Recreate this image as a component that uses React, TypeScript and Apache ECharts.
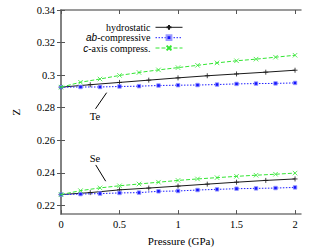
import React, { useEffect, useRef } from "react";
import * as echarts from "echarts";

const pressureFine = [0, 0.1667, 0.3333, 0.5, 0.6667, 0.8333, 1, 1.1667, 1.3333, 1.5, 1.6667, 1.8333, 2];
const pressureCoarse = [0, 0.25, 0.5, 0.75, 1, 1.25, 1.5, 1.75, 2];

const teHydro = [0.2926, 0.2941, 0.2955, 0.2969, 0.2983, 0.2996, 0.3007, 0.3018, 0.303];
const teAb = [0.2926, 0.2927, 0.2927, 0.293, 0.2932, 0.2936, 0.2938, 0.2939, 0.2942, 0.2946, 0.2948, 0.2949, 0.2952];
const teC = [0.2926, 0.2956, 0.2976, 0.2998, 0.3016, 0.3032, 0.3046, 0.306, 0.3075, 0.3088, 0.3098, 0.311, 0.3122];

const seHydro = [0.2266, 0.2278, 0.2295, 0.2306, 0.2318, 0.233, 0.2342, 0.2353, 0.2362];
const seAb = [0.2266, 0.2269, 0.2272, 0.2276, 0.2278, 0.2286, 0.2288, 0.2294, 0.2298, 0.2302, 0.2304, 0.2306, 0.231];
const seC = [0.2266, 0.229, 0.2307, 0.232, 0.2331, 0.2342, 0.2353, 0.2362, 0.237, 0.2378, 0.2385, 0.2391, 0.2398];

const xTicks = [0, 0.5, 1, 1.5, 2];
const yTicks = [0.22, 0.24, 0.26, 0.28, 0.3, 0.32, 0.34];

const seriesNames = ["hydrostatic", "ab-compressive", "c-axis compress."];

const teArrow = [[0.295, 0.2793], [0.39, 0.2892]];
const teLabel = [0.29, 0.2746];
const seArrow = [[0.297, 0.2448], [0.382, 0.2348]];
const seLabel = [0.29, 0.249];

const SERIF = "'Liberation Serif', 'Times New Roman', serif";

const zip = (xs: number[], ys: number[]) => xs.map((x, i) => [x, ys[i]]);

const plusPath = "path://M5,0L5,10M0,5L10,5";
const crossPath = "path://M0,0L10,10M10,0L0,10";

const lineColors = ["#1a1a1a", "#2020ff", "#33e633"];
const lineTypes: any[] = ["solid", [1.5, 1.5], [4, 2]];

function makeSeries(kind: number, xs: number[], ys: number[], extra: any = {}) {
  const common: any = {
    type: "line",
    name: seriesNames[kind],
    data: zip(xs, ys),
    silent: true,
    emphasis: { disabled: true },
    lineStyle: { color: lineColors[kind], width: 1, type: lineTypes[kind] },
    ...extra,
  };
  if (kind === 0) {
    return {
      ...common,
      symbol: plusPath,
      symbolSize: 5,
      z: 2,
      itemStyle: { color: "#1a1a1a", borderColor: "#1a1a1a", borderWidth: 0.8 },
    };
  }
  if (kind === 1) {
    return {
      ...common,
      symbol: "rect",
      symbolSize: 3.5,
      z: 3,
      itemStyle: { color: "#1515ff", borderColor: "#9a9aff", borderWidth: 0.8 },
    };
  }
  return {
    ...common,
    symbol: crossPath,
    symbolSize: 4.5,
    z: 4,
    itemStyle: { color: "#33e633", borderColor: "#33e633", borderWidth: 0.8 },
  };
}

export default function App() {
  const ref = useRef<HTMLDivElement>(null);
  useEffect(() => {
    if (!ref.current) return;
    const chart = echarts.init(ref.current, null, { renderer: "svg" });
    const axisLineStyle = { color: "#7a7a7a", width: 1.5 };
    const tickStyle = { color: "#555", width: 1 };
    const legendTops = [22.3, 32.7, 43];
    const legends = seriesNames.map((n, i) => ({
      data: [n],
      right: 132,
      top: legendTops[i],
      orient: "horizontal",
      align: "right",
      itemWidth: 27,
      itemHeight: 6,
      padding: 0,
      selectedMode: false,
      lineStyle: { width: 1, type: lineTypes[i], color: lineColors[i] },
      formatter: (name: string) =>
        name === "ab-compressive"
          ? "{i|ab}-compressive"
          : name === "c-axis compress."
          ? "{i|c}-axis compress."
          : name,
      textStyle: {
        fontFamily: SERIF,
        fontSize: 10,
        fontWeight: "normal",
        color: "#000",
        rich: {
          i: { fontFamily: "'Liberation Sans', Arial, sans-serif", fontStyle: "italic", fontSize: 10, color: "#000" },
        },
      },
    }));

    const arrowLine = (a: number[][]) => ({
      silent: true,
      symbol: ["none", "arrow"],
      symbolSize: [0, 6],
      label: { show: false },
      lineStyle: { color: "#000", width: 1, type: "solid" },
      emphasis: { disabled: true },
      data: [[{ coord: a[0] }, { coord: a[1] }]],
    });
    const textPoint = (p: number[], t: string) => ({
      silent: true,
      symbol: "circle",
      symbolSize: 0,
      label: { show: true, position: "inside", formatter: t, fontFamily: SERIF, fontSize: 10.5, fontWeight: "normal", color: "#000" },
      data: [{ coord: p, value: t }],
    });

    const series = [
      makeSeries(0, pressureCoarse, teHydro, { markLine: arrowLine(teArrow), markPoint: textPoint(teLabel, "Te") }),
      makeSeries(1, pressureFine, teAb),
      makeSeries(2, pressureFine, teC),
      makeSeries(0, pressureCoarse, seHydro, { markLine: arrowLine(seArrow), markPoint: textPoint(seLabel, "Se") }),
      makeSeries(1, pressureFine, seAb),
      makeSeries(2, pressureFine, seC),
    ];

    const labelStyle = { fontFamily: SERIF, fontSize: 10.5, fontWeight: "normal", color: "#000" };
    const nameStyle = { fontFamily: SERIF, fontSize: 11, fontWeight: "normal", color: "#000" };

    chart.setOption({
      animation: false,
      backgroundColor: "#fff",
      textStyle: { fontFamily: SERIF },
      grid: { left: 61, right: 14, top: 10, bottom: 32 },
      legend: legends,
      xAxis: [
        {
          type: "value",
          min: 0,
          max: 2.051,
          position: "bottom",
          name: "Pressure (GPa)",
          nameLocation: "middle",
          nameGap: 20,
          nameTextStyle: nameStyle,
          axisLine: { show: true, lineStyle: axisLineStyle },
          axisTick: { show: true, inside: true, length: 4, lineStyle: tickStyle, customValues: xTicks },
          axisLabel: { show: true, margin: 5, ...labelStyle, customValues: xTicks },
          splitLine: { show: false },
        },
        {
          type: "value",
          min: 0,
          max: 2.051,
          position: "top",
          axisLine: { show: true, lineStyle: axisLineStyle },
          axisTick: { show: true, inside: true, length: 4, lineStyle: tickStyle, customValues: xTicks },
          axisLabel: { show: false, customValues: xTicks },
          splitLine: { show: false },
        },
      ],
      yAxis: [
        {
          type: "value",
          min: 0.2146,
          max: 0.34,
          position: "left",
          name: "Z",
          nameLocation: "middle",
          nameGap: 40,
          nameRotate: 90,
          nameTextStyle: nameStyle,
          axisLine: { show: true, lineStyle: axisLineStyle },
          axisTick: { show: true, inside: true, length: 4, lineStyle: tickStyle, customValues: yTicks },
          axisLabel: { show: true, margin: 6, ...labelStyle, customValues: yTicks },
          splitLine: { show: false },
        },
        {
          type: "value",
          min: 0.2146,
          max: 0.34,
          position: "right",
          axisLine: { show: true, lineStyle: axisLineStyle },
          axisTick: { show: true, inside: true, length: 4, lineStyle: tickStyle, customValues: yTicks },
          axisLabel: { show: false, customValues: yTicks },
          splitLine: { show: false },
        },
      ],
      series,
    });
    return () => chart.dispose();
  }, []);
  return (
    <div
      ref={ref}
      style={{ position: "fixed", left: 0, top: 0, width: 315, height: 251, background: "#fff" }}
    />
  );
}
